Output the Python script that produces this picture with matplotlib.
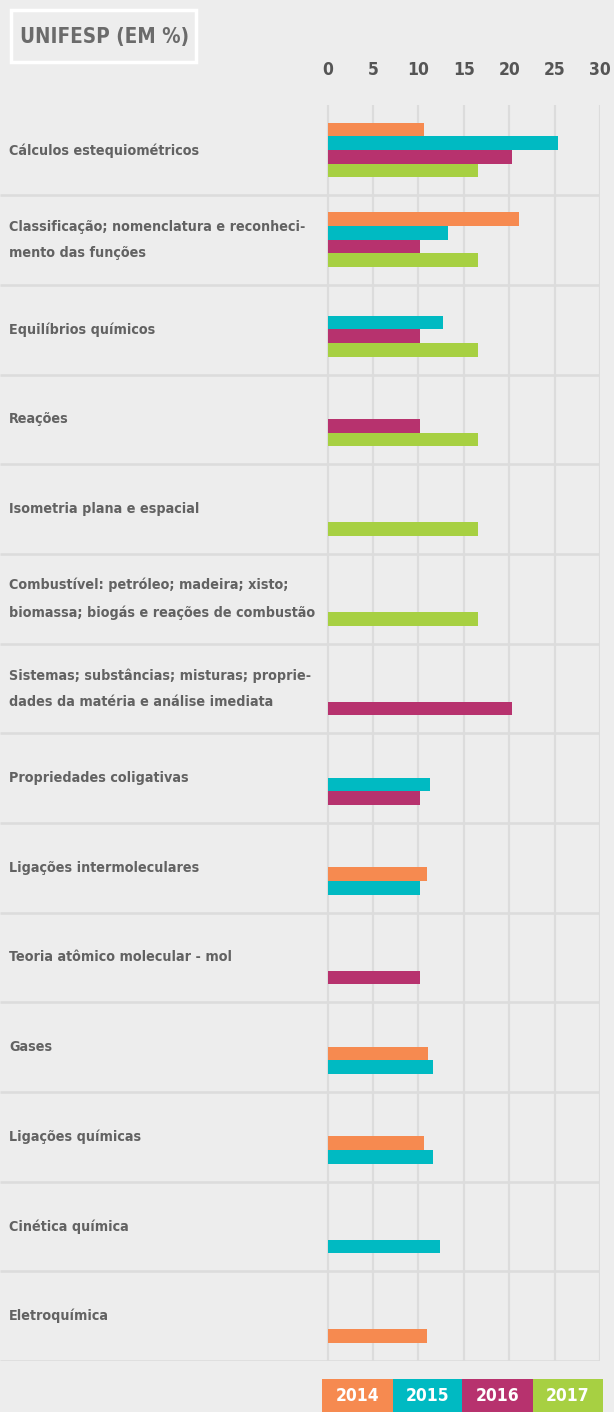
import numpy as np
import matplotlib
matplotlib.use('Agg')
import matplotlib.pyplot as plt
from matplotlib.patches import Rectangle

nan = np.nan
categories = [
    "Cálculos estequiométricos",
    "Classificação; nomenclatura e reconheci-\nmento das funções",
    "Equilíbrios químicos",
    "Reações",
    "Isometria plana e espacial",
    "Combustível: petróleo; madeira; xisto;\nbiomassa; biogás e reações de combustão",
    "Sistemas; substâncias; misturas; proprie-\ndades da matéria e análise imediata",
    "Propriedades coligativas",
    "Ligações intermoleculares",
    "Teoria atômico molecular - mol",
    "Gases",
    "Ligações químicas",
    "Cinética química",
    "Eletroquímica",
]
years = ["2014", "2015", "2016", "2017"]
v2014 = [10.6, 21.1, nan, nan, nan, nan, nan, nan, 10.9, nan, 11.1, 10.6, nan, 10.9]
v2015 = [25.4, 13.3, 12.7, nan, nan, nan, nan, 11.3, 10.2, nan, 11.6, 11.6, 12.4, nan]
v2016 = [20.3, 10.2, 10.2, 10.2, nan, nan, 20.3, 10.2, nan, 10.2, nan, nan, nan, nan]
v2017 = [16.6, 16.6, 16.6, 16.6, 16.6, 16.6, nan, nan, nan, nan, nan, nan, nan, nan]
xticks = [0, 5, 10, 15, 20, 25, 30]
title = "UNIFESP (EM %)"

series = [v2014, v2015, v2016, v2017]
colors = ["#F68A50", "#00BAC2", "#B7326E", "#A7D042"]
BG = "#ededed"
GRID = "#dcdcdc"
TXT = "#626262"
FONT = ["DejaVu Sans"]
STRETCH = "condensed"

W, H = 614, 1412
fig = plt.figure(figsize=(W / 100, H / 100), dpi=100)
fig.patch.set_facecolor(BG)


def fx(px):
    return px / W


def fy(py):
    return 1 - py / H


row_top, row_bot = 105.5, 1361
ax = fig.add_axes([0, fy(row_bot), fx(600), (row_bot - row_top) / H])
x0px, x30px = 327.7, 600
scale = (x30px - x0px) / 30
ax.set_xlim(-x0px / scale, 30)
n = len(categories)
ax.set_ylim(n, 0)
ax.set_facecolor("none")
for s in ax.spines.values():
    s.set_visible(False)

ax.vlines(xticks, 0, n, color=GRID, lw=1.6, zorder=1)
ax.hlines(np.arange(1, n + 1), -x0px / scale, 30, color=GRID, lw=1.9, zorder=1)

row_px = (row_bot - row_top) / n
h = 13.6 / row_px
gap = 18 / row_px
for i in range(n):
    present = [k for k in range(4) if not np.isnan(series[k][i])]
    for j, k in enumerate(reversed(present)):
        yc = i + 1 - gap - h * (j + 0.5)
        ax.barh(yc, series[k][i], height=h, left=0, color=colors[k], zorder=3)
    ax.text(9 / scale + (-x0px / scale), i + 0.5, categories[i], ha="left", va="center",
            fontsize=10.3, fontweight="bold", color=TXT, family=FONT, stretch=STRETCH,
            linespacing=2.1)

ax.set_yticks([])
ax.set_xticks(xticks)
ax.set_xticklabels([str(t) for t in xticks])
ax.xaxis.tick_top()
ax.tick_params(axis="x", length=0, pad=19, labelsize=12.5, labelcolor="#555555")
for lab in ax.get_xticklabels():
    lab.set_family(FONT)
    lab.set_fontweight("bold")
    lab.set_stretch(STRETCH)

# title box
fig.patches.append(Rectangle((fx(11), fy(62)), (196 - 11) / W, (62 - 10) / H,
                             transform=fig.transFigure, fill=False, ec="white", lw=2.5))
fig.text(fx(105), fy(37), title, ha="center", va="center", fontsize=14.8,
         fontweight="bold", color="#6b6b6b", family=FONT, stretch=STRETCH)

# legend boxes
edges = [322, 393, 462, 533, 603]
for k, yr in enumerate(years):
    fig.patches.append(Rectangle((fx(edges[k]), 0), (edges[k + 1] - edges[k]) / W, (H - 1379) / H,
                                 transform=fig.transFigure, color=colors[k], lw=0))
    fig.text(fx((edges[k] + edges[k + 1]) / 2), fy(1396), yr, ha="center", va="center",
             fontsize=12.5, fontweight="bold", color="white", family=FONT, stretch=STRETCH)

fig.savefig("out.png", dpi=100, facecolor=BG)
